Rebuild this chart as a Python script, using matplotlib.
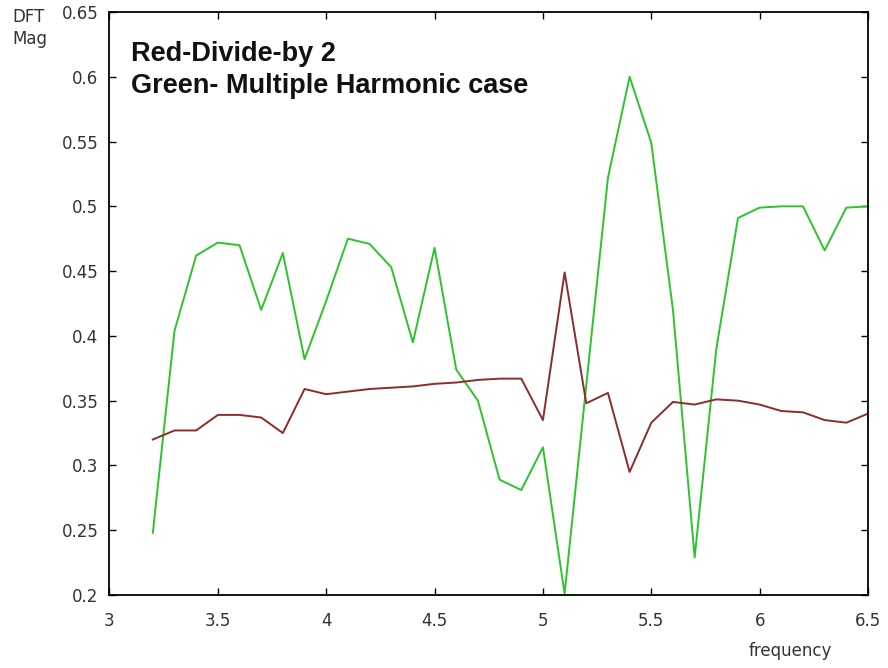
import numpy as np
import matplotlib
matplotlib.use("Agg")
import matplotlib.pyplot as plt

# Frequency sweep and DFT magnitudes for the two cases
frequency = [3.2, 3.3, 3.4, 3.5, 3.6, 3.7, 3.8, 3.9, 4.0, 4.1, 4.2, 4.3,
             4.4, 4.5, 4.6, 4.7, 4.8, 4.9, 5.0, 5.1, 5.2, 5.3, 5.4, 5.5,
             5.6, 5.7, 5.8, 5.9, 6.0, 6.1, 6.2, 6.3, 6.4, 6.5]

divide_by_2 = [0.320, 0.327, 0.327, 0.339, 0.339, 0.337, 0.325, 0.359,
               0.355, 0.357, 0.359, 0.360, 0.361, 0.363, 0.364, 0.366,
               0.367, 0.367, 0.335, 0.449, 0.348, 0.356, 0.295, 0.333,
               0.349, 0.347, 0.351, 0.350, 0.347, 0.342, 0.341, 0.335,
               0.333, 0.340]

multiple_harmonic = [0.248, 0.404, 0.462, 0.472, 0.470, 0.420, 0.464, 0.382,
                     0.427, 0.475, 0.471, 0.453, 0.395, 0.468, 0.374, 0.350,
                     0.289, 0.281, 0.314, 0.201, 0.362, 0.522, 0.600, 0.549,
                     0.420, 0.229, 0.390, 0.491, 0.499, 0.500, 0.500, 0.466,
                     0.499, 0.500]

x_ticks = [3, 3.5, 4, 4.5, 5, 5.5, 6, 6.5]
x_tick_labels = ["3", "3.5", "4", "4.5", "5", "5.5", "6", "6.5"]
y_ticks = [0.2, 0.25, 0.3, 0.35, 0.4, 0.45, 0.5, 0.55, 0.6, 0.65]
y_tick_labels = ["0.2", "0.25", "0.3", "0.35", "0.4", "0.45", "0.5", "0.55", "0.6", "0.65"]

W, H = 888, 668
fig = plt.figure(figsize=(W / 100, H / 100), dpi=100)
ax = fig.add_axes([0.1233, 0.1093, 0.8542, 0.8727])

ax.plot(frequency, multiple_harmonic, color="#2cc42c", lw=1.4)
ax.plot(frequency, divide_by_2, color="#8e2b2b", lw=1.4)

ax.set_xlim(3, 6.5)
ax.set_ylim(0.2, 0.65)
ax.set_xticks(x_ticks)
ax.set_xticklabels(x_tick_labels)
ax.set_yticks(y_ticks)
ax.set_yticklabels(y_tick_labels)

ax.tick_params(direction="in", length=5, width=1, top=True, right=True,
               labelsize=12, labelcolor="#333333", color="black")
ax.tick_params(axis="x", pad=12)
ax.tick_params(axis="y", pad=8)
for s in ax.spines.values():
    s.set_linewidth(1.3)

ax.text(131 / W, 1 - 61 / H, "Red-Divide-by 2", transform=fig.transFigure,
        ha="left", va="baseline", fontsize=19.5, fontweight="bold",
        family="Liberation Sans", color="#111111")
ax.text(131 / W, 1 - 93 / H, "Green- Multiple Harmonic case",
        transform=fig.transFigure, ha="left", va="baseline", fontsize=19.5,
        fontweight="bold", family="Liberation Sans", color="#111111")

fig.text(12 / W, 1 - 8 / H, "DFT\nMag", ha="left", va="top",
         fontsize=12, color="#333333", linespacing=1.25)
fig.text(790 / W, 1 - 660 / H, "frequency", ha="center", va="bottom",
         fontsize=12, color="#333333")

fig.savefig("out.png", dpi=100, facecolor="white")
